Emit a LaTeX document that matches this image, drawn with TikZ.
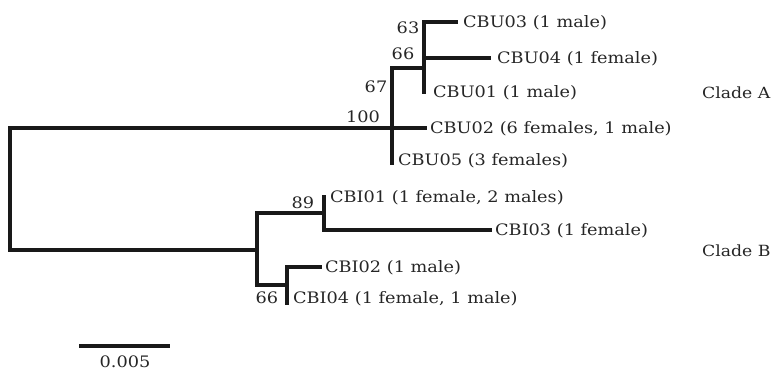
\documentclass[tikz,border=0pt]{standalone}
\usepackage{fontspec}
\setmainfont[FakeStretch=1.12]{DejaVu Serif}
\begin{document}
\begin{tikzpicture}[x=1pt,y=-1pt,
  branch/.style={line width=3.3pt,line join=miter,line cap=rect,black!90},
  lbl/.style={inner sep=0pt,font=\fontsize{15.8}{18}\selectfont,text=black!85},
  taxon/.style={lbl,anchor=west,text height=11.5pt,text depth=0pt},
  support/.style={lbl},
  clade/.style={taxon,font=\fontsize{15.4}{18}\selectfont}]
\useasboundingbox (0,0) rectangle (776,371);
% internal nodes
\coordinate (rA) at (10,128);
\coordinate (rB) at (10,250);
\coordinate (n100) at (392,128);
\coordinate (n67) at (392,68);
\coordinate (n66) at (424,68);
\coordinate (nB) at (257,250);
\coordinate (n89) at (257,213);
\coordinate (n89j) at (324,213);
\coordinate (n66b) at (257,285);
\coordinate (n66bj) at (287,285);
% tips
\coordinate (U03) at (456,22);
\coordinate (U04) at (489,58);
\coordinate (U01) at (424,92);
\coordinate (U02) at (425,128);
\coordinate (U05) at (392,163);
\coordinate (I01) at (324,197);
\coordinate (I03) at (490,230);
\coordinate (I02) at (320,267);
\coordinate (I04) at (287,303);
% clade A
\draw[branch] (n100) -- (rA) -- (rB) -- (nB);
\draw[branch] (n67) -- (U05);
\draw[branch] (n100) -- (U02);
\draw[branch] (n67) -- (n66);
\draw[branch] (U03) -| (U01);
\draw[branch] (U04) -- (U04 -| U01);
% clade B
\draw[branch] (n89j) -- (n89) -- (n66b) -- (n66bj);
\draw[branch] (I01) |- (I03);
\draw[branch] (I02) -| (I04);
% taxon labels
\node[taxon] (tU03) at (463,22) {CBU03 (1 male)};
\node[taxon] (tU04) at (497,58) {CBU04 (1 female)};
\node[taxon] (tU01) at (433,92) {CBU01 (1 male)};
\node[taxon] (tU02) at (430,128) {CBU02 (6 females, 1 male)};
\node[taxon] (tU05) at (398,160) {CBU05 (3 females)};
\node[taxon] (tI01) at (330,197) {CBI01 (1 female, 2 males)};
\node[taxon] (tI03) at (495,230) {CBI03 (1 female)};
\node[taxon] (tI02) at (325,267) {CBI02 (1 male)};
\node[taxon] (tI04) at (293,298) {CBI04 (1 female, 1 male)};
% bootstrap values
\node[support] (b100) at (363,117) {100};
\node[support] (b67) at (376,87) {67};
\node[support] (b66) at (403,54) {66};
\node[support] (b63) at (408,28) {63};
\node[support] (b89) at (303,203) {89};
\node[support] (b66b) at (267,298) {66};
% clades
\node[clade] (cA) at (702,93) {Clade A};
\node[clade] (cB) at (702,251) {Clade B};
% scale bar
\coordinate (s0) at (79,346);
\coordinate (s1) at (170,346);
\draw[branch,line cap=butt] (s0) -- (s1);
\node[support] (sl) at (125,362) {0.005};
\end{tikzpicture}
\end{document}
